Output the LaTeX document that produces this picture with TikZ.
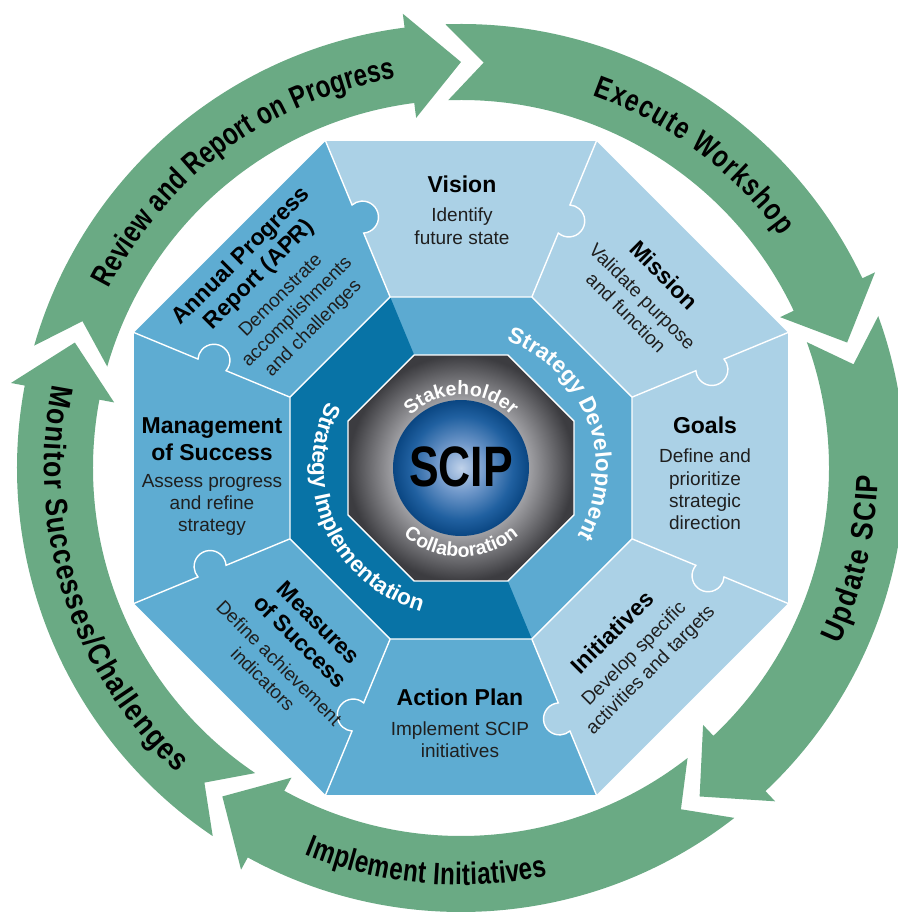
\documentclass[tikz,border=0pt]{standalone}
\usepackage{fontspec}
\setmainfont{Liberation Sans}
\newfontfamily\condfont[FakeStretch=0.78]{Liberation Sans}
\newfontfamily\condfontb[FakeStretch=0.86]{Liberation Sans}
\newfontfamily\scipfont[FakeStretch=0.78]{Liberation Sans}
\usetikzlibrary{decorations.text}
\definecolor{arrowgreen}{RGB}{106,170,132}
\definecolor{lightseg}{RGB}{171,209,230}
\definecolor{medseg}{RGB}{94,172,210}
\definecolor{ringlight}{RGB}{92,170,209}
\definecolor{ringdark}{RGB}{8,115,166}
\definecolor{gA}{RGB}{170,170,174}
\definecolor{gB}{RGB}{60,60,64}
\definecolor{bA}{RGB}{192,210,234}
\definecolor{bB}{RGB}{112,152,202}
\definecolor{bC}{RGB}{32,96,160}
\definecolor{bD}{RGB}{10,70,130}
\pgfdeclareradialshading{grayoct}{\pgfpointorigin}{color(0bp)=(gA); color(14bp)=(gA); color(25bp)=(gB); color(50bp)=(gB)}
\pgfdeclareradialshading{ball}{\pgfpointorigin}{color(0bp)=(bA); color(9bp)=(bB); color(19bp)=(bC); color(25bp)=(bD); color(50bp)=(bD)}
\newcommand{\arrowfont}{\condfont\bfseries\fontsize{31}{31}\selectfont\color{black}}
\newcommand{\arrowfontb}{\condfontb\bfseries\fontsize{31}{31}\selectfont\color{black}}
\newcommand{\ringfont}{\bfseries\fontsize{22.5}{22.5}\selectfont\color{white}}
\newcommand{\corefont}{\bfseries\fontsize{19.5}{19.5}\selectfont\color{white}}
\begin{document}
\begin{tikzpicture}[x=1pt, y=1pt,
  ttl/.style={font=\fontsize{23}{26}\selectfont\bfseries, anchor=base, inner sep=0pt, text=black},
  dsc/.style={font=\fontsize{19}{22}\selectfont, anchor=base, inner sep=0pt, text=black!88},
  sepline/.style={draw=white, line width=1.4pt}]
\useasboundingbox (-461,-445) rectangle (436,468);

% ---- outer green arrows
\foreach \T in {90,18,-54,-126,-198} {
  \fill[arrowgreen] ({\T+74}:444pt) arc[start angle={\T+74}, end angle={\T+7.3}, radius=444pt]
    -- ({\T+7.3}:458pt) -- (\T:406pt) -- ({\T+7.3}:353pt) -- ({\T+7.3}:368pt)
    arc[start angle={\T+7.3}, end angle={\T+74}, radius=368pt] -- ({\T+68.8}:406pt) -- cycle;
}

% ---- arrow labels
\path[decorate, decoration={text along path, text align={fit to path},
  text={|\arrowfont|Review and Report on Progress}}]
  (153:395pt) arc[start angle=153, end angle=99.5, radius=395pt];
\path[decorate, decoration={text along path, text align={fit to path},
  text={|\arrowfont|Execute Workshop}}]
  (70.5:395pt) arc[start angle=70.5, end angle=36, radius=395pt];
\path[decorate, decoration={text along path, text align={fit to path},
  text={|\arrowfontb|Update SCIP}}]
  (-25:417pt) arc[start angle=-25, end angle=-1, radius=417pt];
\path[decorate, decoration={text along path, text align={fit to path},
  text={|\arrowfont|Implement Initiatives}}]
  (-112:417pt) arc[start angle=-112, end angle=-78, radius=417pt];
\path[decorate, decoration={text along path, text align={fit to path},
  text={|\arrowfontb|Monitor Successes/Challenges}}]
  (168.5:417pt) arc[start angle=168.5, end angle=227, radius=417pt];

% ---- outer segments
\foreach \p/\c in {90/lightseg, 45/lightseg, 0/lightseg, -45/lightseg, -90/medseg, -135/medseg, 180/medseg, 135/medseg} {
  \fill[\c] ({\p-22.5}:353.9pt) -- ({\p+22.5}:353.9pt) -- ({\p+22.5}:185.1pt) -- ({\p-22.5}:185.1pt) -- cycle;
}
% ---- puzzle tabs and separators
\foreach \b/\c in {112.5/medseg, 67.5/lightseg, 22.5/lightseg, -22.5/lightseg, -67.5/lightseg, -112.5/medseg, -157.5/medseg, 157.5/medseg} {
  \begin{scope}[rotate=\b]
    \fill[\c] (269.5,-5) circle (16pt);
    \draw[sepline] (185.1,0) -- (254.3,0) arc[start angle=161.8, end angle=378.2, radius=16pt] -- (353.9,0);
  \end{scope}
}

% ---- strategy ring
\fill[ringlight] (22.5:185.1pt) -- (67.5:185.1pt) -- (112.5:185.1pt) -- (157.5:185.1pt) -- (202.5:185.1pt) -- (247.5:185.1pt) -- (292.5:185.1pt) -- (337.5:185.1pt) -- cycle;
\fill[ringdark] (0,0) -- (112.5:185.1pt) -- (157.5:185.1pt) -- (202.5:185.1pt) -- (247.5:185.1pt) -- (292.5:185.1pt) -- cycle;
\draw[sepline] (22.5:185.1pt) -- (67.5:185.1pt) -- (112.5:185.1pt) -- (157.5:185.1pt) -- (202.5:185.1pt) -- (247.5:185.1pt) -- (292.5:185.1pt) -- (337.5:185.1pt) -- cycle;

\path[decorate, decoration={text along path, text align=center,
  text={|\ringfont|Strategy Development}}]
  (72:135pt) arc[start angle=72, end angle=-32, radius=135pt];
\path[decorate, decoration={text along path, text align=center,
  text={|\ringfont|Strategy Implementation}}]
  (150:149pt) arc[start angle=150, end angle=258, radius=149pt];

% ---- gray core
\shade[shading=grayoct] (22.5:122.3pt) -- (67.5:122.3pt) -- (112.5:122.3pt) -- (157.5:122.3pt) -- (202.5:122.3pt) -- (247.5:122.3pt) -- (292.5:122.3pt) -- (337.5:122.3pt) -- cycle;
\draw[sepline] (22.5:122.3pt) -- (67.5:122.3pt) -- (112.5:122.3pt) -- (157.5:122.3pt) -- (202.5:122.3pt) -- (247.5:122.3pt) -- (292.5:122.3pt) -- (337.5:122.3pt) -- cycle;
\shade[shading=ball] (0,0) circle (68pt);
\node[inner sep=0pt, font=\scipfont\bfseries\fontsize{57}{57}\selectfont, text=black] (scip) at (0,1) {SCIP};
\path[decorate, decoration={text along path, text align=center,
  text={|\corefont|Stakeholder}}]
  (140:73pt) arc[start angle=140, end angle=40, radius=73pt];
\path[decorate, decoration={text along path, text align=center,
  text={|\corefont|Collaboration}}]
  (200:89pt) arc[start angle=200, end angle=340, radius=89pt];

% ---- segment texts
% Vision
\node[ttl] (vis) at (1,275) {Vision};
\node[dsc] (vis1) at (1,246) {Identify};
\node[dsc] (vis2) at (1,223) {future state};
% Mission
\node[ttl, rotate=-45] (mis) at (197.3,187.3) {Mission};
\node[dsc, rotate=-45] (mis1) at (176.8,166.8) {Validate purpose};
\node[dsc, rotate=-45] (mis2) at (160.5,150.5) {and function};
% Goals
\node[ttl] (goa) at (244,35) {Goals};
\node[dsc] (goa1) at (244,6) {Define and};
\node[dsc] (goa2) at (244,-17) {prioritize};
\node[dsc] (goa3) at (244,-39) {strategic};
\node[dsc] (goa4) at (244,-61) {direction};
% Initiatives
\node[ttl, rotate=45] (ini) at (156.7,-169.7) {Initiatives};
\node[dsc, rotate=45] (ini1) at (177,-190) {Develop specific};
\node[dsc, rotate=45] (ini2) at (193.5,-206) {activities and targets};
% Action Plan
\node[ttl] (act) at (-1,-237) {Action Plan};
\node[dsc] (act1) at (-1,-267) {Implement SCIP};
\node[dsc] (act2) at (-1,-289) {initiatives};
% Measures of Success
\node[ttl, rotate=-45] (mea) at (-147.5,-160.5) {Measures};
\node[ttl, rotate=-45] (mea2) at (-166,-179) {of Success};
\node[dsc, rotate=-45] (mea3) at (-186.4,-199.5) {Define achievement};
\node[dsc, rotate=-45] (mea4) at (-202.7,-215.8) {indicators};
% Management of Success
\node[ttl] (man) at (-249,35) {Management};
\node[ttl] (man2) at (-249,8) {of Success};
\node[dsc] (man3) at (-249,-19) {Assess progress};
\node[dsc] (man4) at (-249,-41) {and refine};
\node[dsc] (man5) at (-249,-63) {strategy};
% Annual Progress Report
\node[ttl, rotate=45] (apr) at (-215.3,207.3) {Annual Progress};
\node[ttl, rotate=45] (apr2) at (-197,189) {Report (APR)};
\node[dsc, rotate=45] (apr3) at (-176.5,168.5) {Demonstrate};
\node[dsc, rotate=45] (apr4) at (-160.2,152.2) {accomplishments};
\node[dsc, rotate=45] (apr5) at (-144,136) {and challenges};
\end{tikzpicture}
\end{document}
